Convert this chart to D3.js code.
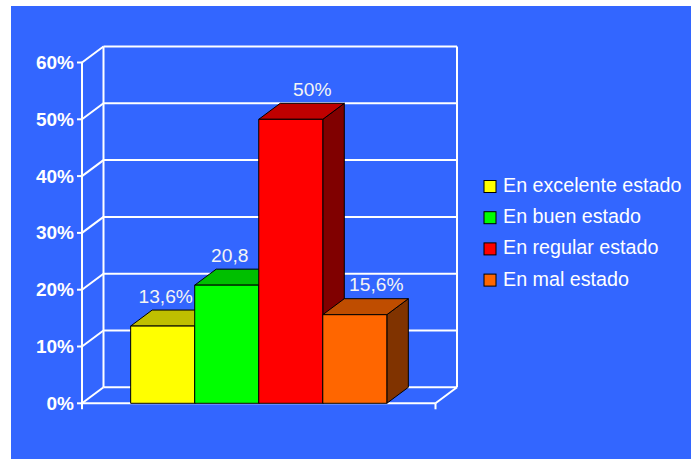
<!DOCTYPE html>
<html>
<head>
<meta charset="utf-8">
<script src="https://cdn.jsdelivr.net/npm/d3@7"></script>
<style>
  html, body { margin: 0; padding: 0; background: #ffffff; }
  svg { display: block; }
  text { font-family: Arial, "Liberation Sans", sans-serif; }
</style>
</head>
<body>
<div id="chart"></div>
<script>
// Estado de conservación: porcentaje por categoría
const series = ["En excelente estado", "En buen estado", "En regular estado", "En mal estado"];
const values = [13.6, 20.8, 50, 15.6];
const valueLabels = ["13,6%", "20,8", "50%", "15,6%"];
const yTicks = [0, 10, 20, 30, 40, 50, 60];
const tickLabels = ["0%", "10%", "20%", "30%", "40%", "50%", "60%"];
const colors = ["#ffff00", "#00ff00", "#ff0000", "#ff6600"];

const W = 691, H = 459;
const svg = d3.select("#chart").append("svg").attr("width", W).attr("height", H);

// blue panel
svg.append("rect").attr("x", 11).attr("y", 6).attr("width", W - 11).attr("height", H - 6)
  .attr("fill", "#3366ff");

// 3D frame geometry: front plane plus a depth offset to the back wall
const depthX = 21.5, depthY = -16;
const frontLeft = 82, frontRight = 435.5;
const y = d3.scaleLinear().domain([0, 60]).range([403.3, 62.5]);

// one category, four series side by side
const xCat = d3.scaleBand().domain(["cat"]).range([frontLeft, frontRight]).paddingOuter(0.19).paddingInner(0);
const xSer = d3.scaleBand().domain(series).range([xCat("cat"), xCat("cat") + xCat.bandwidth()]).padding(0);

const grid = svg.append("g").attr("stroke", "#ffffff").attr("stroke-width", 2).attr("fill", "none");
const bx0 = frontLeft + depthX, bx1 = frontRight + depthX;

// back wall outline and horizontal gridlines
yTicks.forEach(t => {
  grid.append("line").attr("x1", bx0).attr("x2", bx1)
    .attr("y1", y(t) + depthY).attr("y2", y(t) + depthY);
  // diagonal from the front axis to the back wall
  grid.append("line").attr("x1", frontLeft).attr("y1", y(t))
    .attr("x2", bx0).attr("y2", y(t) + depthY);
  // tick mark on the front axis
  grid.append("line").attr("x1", frontLeft - 5).attr("x2", frontLeft)
    .attr("y1", y(t)).attr("y2", y(t));
});
grid.append("line").attr("x1", bx0).attr("x2", bx0).attr("y1", y(60) + depthY).attr("y2", y(0) + depthY);
grid.append("line").attr("x1", bx1).attr("x2", bx1).attr("y1", y(60) + depthY).attr("y2", y(0) + depthY);
// front axis and floor edge
grid.append("line").attr("x1", frontLeft).attr("x2", frontLeft).attr("y1", y(60)).attr("y2", y(0) + 6);
grid.append("line").attr("x1", frontLeft).attr("x2", frontRight).attr("y1", y(0)).attr("y2", y(0));
grid.append("line").attr("x1", frontRight).attr("x2", frontRight).attr("y1", y(0)).attr("y2", y(0) + 6);
grid.append("line").attr("x1", frontRight).attr("y1", y(0)).attr("x2", bx1).attr("y2", y(0) + depthY);

// y axis labels
svg.append("g").selectAll("text").data(yTicks).join("text")
  .attr("x", frontLeft - 8).attr("y", d => y(d) + 6.5)
  .attr("text-anchor", "end").attr("font-size", 19).attr("font-weight", "bold")
  .attr("fill", "#ffffff").text((d, i) => tickLabels[i]);

function shade(c, k) {
  const r = d3.rgb(c);
  return d3.rgb(Math.round(r.r * k), Math.round(r.g * k), Math.round(r.b * k)).formatHex();
}

// bars, drawn left to right so each front face hides the previous side face
const bars = svg.append("g").attr("stroke", "#000000").attr("stroke-width", 1).attr("stroke-linejoin", "round");
series.forEach((s, i) => {
  const x0 = xSer(s), x1 = x0 + xSer.bandwidth();
  const yt = y(values[i]), yb = y(0);
  bars.append("polygon").attr("fill", shade(colors[i], 0.5))
    .attr("points", [[x1, yb], [x1, yt], [x1 + depthX, yt + depthY], [x1 + depthX, yb + depthY]].join(" "));
  bars.append("polygon").attr("fill", shade(colors[i], 0.75))
    .attr("points", [[x0, yt], [x1, yt], [x1 + depthX, yt + depthY], [x0 + depthX, yt + depthY]].join(" "));
  bars.append("rect").attr("fill", colors[i])
    .attr("x", x0).attr("y", yt).attr("width", x1 - x0).attr("height", yb - yt);
});

// value labels above each bar; pulled to the front edge when the next bar is taller
svg.append("g").selectAll("text").data(series).join("text")
  .attr("x", (s, i) => {
    const c = xSer(s) + xSer.bandwidth() / 2;
    const nextTaller = i < values.length - 1 && values[i + 1] > values[i];
    return nextTaller ? c + 3 : c + depthX;
  })
  .attr("y", (s, i) => y(values[i]) + depthY - 7.5)
  .attr("text-anchor", "middle").attr("font-size", 19.2).attr("fill", "#f4f4f4")
  .text((s, i) => valueLabels[i]);

// legend
const legend = svg.append("g").attr("transform", "translate(484,180.5)");
const row = legend.selectAll("g").data(series).join("g")
  .attr("transform", (d, i) => `translate(0,${i * 31.2})`);
row.append("rect").attr("width", 12).attr("height", 12)
  .attr("fill", (d, i) => colors[i]).attr("stroke", "#000000").attr("stroke-width", 1);
row.append("text").attr("x", 19).attr("y", 11.5).attr("font-size", 19.7)
  .attr("fill", "#ffffff").text(d => d);
</script>
</body>
</html>
